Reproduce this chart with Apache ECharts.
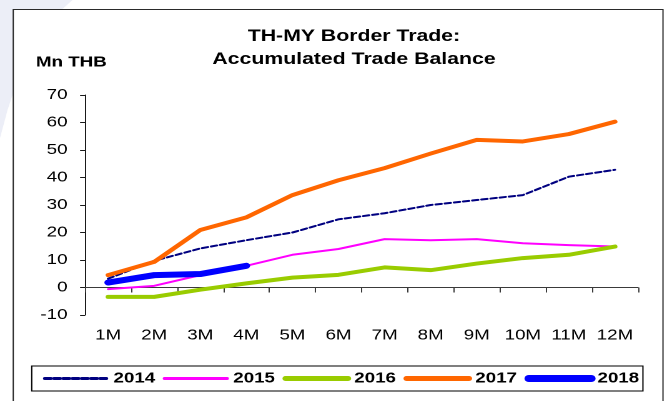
<!DOCTYPE html>
<html>
<head>
<meta charset="utf-8">
<script src="https://cdn.jsdelivr.net/npm/echarts@6/dist/echarts.min.js"></script>
<style>
  html, body { margin: 0; padding: 0; background: #ffffff; overflow: hidden; }
  #wrap { width: 667px; height: 401px; overflow: hidden; position: relative; }
  /* the chart is laid out narrow and widened to the final width */
  #chart { width: 534px; height: 401px; transform: scaleX(1.249); transform-origin: 0 0; }
</style>
</head>
<body>
<div id="wrap"><div id="chart"></div></div>
<script>
// Accumulated Thai-Malaysian border trade balance, million baht, by month
const months = ['1M', '2M', '3M', '4M', '5M', '6M', '7M', '8M', '9M', '10M', '11M', '12M'];
const yearNames = ['2014', '2015', '2016', '2017', '2018'];
const bal2014 = [3.2, 9.7, 14.2, 17.2, 20.0, 24.8, 27.0, 30.0, 31.8, 33.6, 40.3, 42.8];
const bal2015 = [-0.6, 0.6, 4.5, 7.9, 11.9, 14.0, 17.6, 17.2, 17.6, 16.1, 15.4, 14.9];
const bal2016 = [-3.4, -3.4, -0.8, 1.5, 3.6, 4.6, 7.3, 6.3, 8.7, 10.7, 11.9, 14.9];
const bal2017 = [4.5, 9.3, 20.9, 25.5, 33.6, 39.0, 43.4, 48.7, 53.7, 53.1, 55.8, 60.3];
const bal2018 = [1.8, 4.5, 4.9, 7.9];
const yTicks = { min: -10, max: 70, step: 10 };

const FONT = '"Liberation Sans", Arial, sans-serif';

const chart = echarts.init(document.getElementById('chart'), null, { renderer: 'canvas', devicePixelRatio: 2 });

const styles = {
  '2014': { color: '#000080', width: 2, type: [4.8, 2.6] },
  '2015': { color: '#ff00ff', width: 2, type: 'solid' },
  '2016': { color: '#99cc00', width: 4, type: 'solid' },
  '2017': { color: '#ff6600', width: 4, type: 'solid' },
  '2018': { color: '#0000ff', width: 6, type: 'solid' }
};

function lineSeries(name, data, z) {
  const s = styles[name];
  return {
    name: name,
    type: 'line',
    data: data,
    symbol: 'none',
    z: z,
    lineStyle: { color: s.color, width: s.width, type: s.type, cap: 'round', join: 'round' },
    itemStyle: { color: s.color },
    emphasis: { disabled: true },
    animation: false
  };
}

chart.setOption({
  animation: false,
  backgroundColor: '#ffffff',
  textStyle: { fontFamily: FONT },
  graphic: [
    {
      type: 'polygon', z: -10, silent: true,
      shape: { points: [[0, 0], [58, 0], [42, 18], [26, 45], [14, 80], [6, 110], [0, 138]] },
      style: { fill: '#eceef7' }
    },
    {
      type: 'rect', z: -5, silent: true,
      shape: { x: 10.6, y: 9.5, width: 520.2, height: 420 },
      style: { fill: '#ffffff', stroke: '#2a2a2a', lineWidth: 1 }
    },
    {
      type: 'text', x: 283.4, y: 36.5, silent: true,
      style: { text: 'TH-MY Border Trade:', font: 'bold 17px ' + FONT, fill: '#000', textAlign: 'center', textVerticalAlign: 'middle' }
    },
    {
      type: 'text', x: 283.4, y: 59.5, silent: true,
      style: { text: 'Accumulated Trade Balance', font: 'bold 17px ' + FONT, fill: '#000', textAlign: 'center', textVerticalAlign: 'middle' }
    },
    {
      type: 'text', x: 28.8, y: 62.5, silent: true,
      style: { text: 'Mn THB', font: 'bold 15px ' + FONT, fill: '#000', textAlign: 'left', textVerticalAlign: 'middle' }
    }
  ],
  grid: { left: 68.1, right: 23.2, top: 95, bottom: 86, containLabel: false },
  legend: {
    data: yearNames.map(function (n) {
      return {
        name: n,
        lineStyle: { width: styles[n].width + 1, type: styles[n].type, color: styles[n].color, cap: 'round' }
      };
    }),
    left: 25.4,
    top: 366,
    orient: 'horizontal',
    itemWidth: 50,
    itemHeight: 14,
    itemGap: 6,
    padding: [5, 3, 5, 9],
    borderColor: '#000',
    borderWidth: 1,
    selectedMode: false,
    itemStyle: { opacity: 0 },
    textStyle: { fontFamily: FONT, fontWeight: 'bold', fontSize: 15, color: '#000' }
  },
  xAxis: {
    type: 'category',
    data: months,
    boundaryGap: true,
    axisLine: { onZero: true, lineStyle: { color: '#3a3a3a', width: 1 } },
    axisTick: { show: true, length: 5, alignWithLabel: false, lineStyle: { color: '#3a3a3a' } },
    axisLabel: { margin: 13, fontSize: 15, color: '#000', fontFamily: FONT, interval: 0 },
    splitLine: { show: false }
  },
  yAxis: {
    type: 'value',
    min: yTicks.min,
    max: yTicks.max,
    interval: yTicks.step,
    axisLine: { show: true, lineStyle: { color: '#1a1a1a', width: 1 } },
    axisTick: { show: true, length: 4, lineStyle: { color: '#1a1a1a' } },
    axisLabel: { margin: 14, fontSize: 15, color: '#000', fontFamily: FONT },
    splitLine: { show: false }
  },
  series: [
    lineSeries('2014', bal2014, 2),
    lineSeries('2015', bal2015, 3),
    lineSeries('2016', bal2016, 4),
    lineSeries('2017', bal2017, 5),
    lineSeries('2018', bal2018, 6)
  ]
});
</script>
</body>
</html>
